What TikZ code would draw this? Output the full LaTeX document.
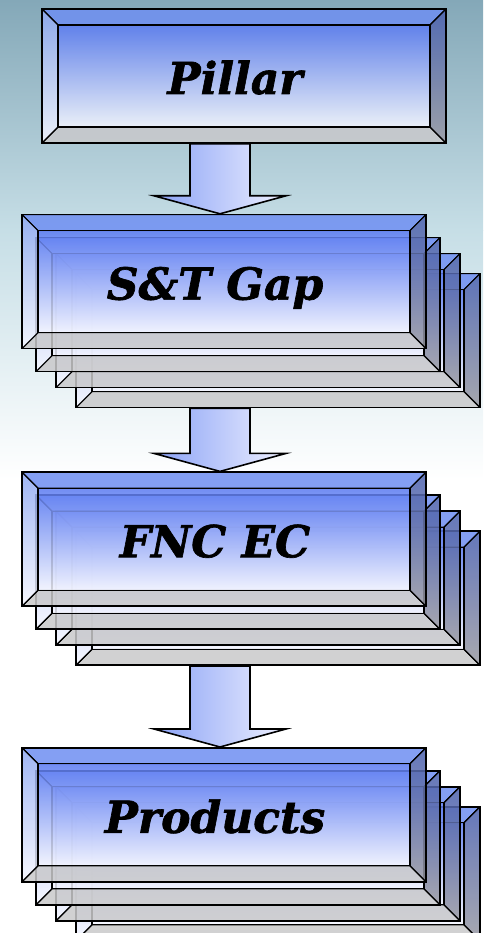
\documentclass[tikz,border=0pt]{standalone}
\usepackage{fontspec}
\usepackage{tikz}
\usetikzlibrary{shapes,arrows,positioning,calc}
\newfontfamily\boxfont{DejaVu Serif}[BoldItalicFeatures={FakeBold=1.5}]

\definecolor{topblue}{HTML}{6F8FF2}
\definecolor{faceblue}{HTML}{5A7AF2}
\definecolor{facewhite}{HTML}{F6F7FF}
\definecolor{leftblue}{HTML}{8EA8F2}
\definecolor{rightblue}{HTML}{4A60B0}
\definecolor{rightgrey}{HTML}{9A9AA2}
\definecolor{bottomgrey}{HTML}{C9C9CB}
\definecolor{arrowblue}{HTML}{8AA2F6}
\definecolor{arrowwhite}{HTML}{EEF0FF}
\definecolor{skytop}{HTML}{84A8B8}
\definecolor{skymid}{HTML}{C6DEE6}

\pgfdeclarelayer{sky}
\pgfdeclarelayer{stack}
\pgfsetlayers{sky,stack,main}

% arrow from the bottom of one box down to the top of the next
\newcommand{\flowarrow}[2]{%
  \draw[block arrow] ($(#1 -| #2)+(-34,0)$) -- ($(#2)+(-34,-18)$) -- ($(#2)+(-70,-18)$)
    -- ($(#2)+(-4,0)$) -- ($(#2)+(62,-18)$) -- ($(#2)+(26,-18)$) -- ($(#1 -| #2)+(26,0)$) -- cycle;}

\begin{document}
\begin{tikzpicture}[
    x=1pt, y=-1pt,
    node distance=70pt,
    thick,
    bevel box/.style={rectangle, draw=black, line width=1.6pt, minimum width=404pt,
      minimum height=134pt, inner sep=0pt, text height=36pt, text depth=0pt,
      font=\boxfont\bfseries\itshape\fontsize{44}{48}\selectfont,
      execute at end node=\hspace*{18pt},
      fill opacity=0.85, text opacity=1,
      path picture={
        \path (path picture bounding box.north west) coordinate (bnw)
              (path picture bounding box.north east) coordinate (bne)
              (path picture bounding box.south west) coordinate (bsw)
              (path picture bounding box.south east) coordinate (bse);
        \filldraw[face edge, fill=topblue] (bnw) -- (bne) -- ($(bne)+(-16,16)$) -- ($(bnw)+(16,16)$) -- cycle;
        \filldraw[face edge, fill=bottomgrey] (bsw) -- (bse) -- ($(bse)+(-16,-16)$) -- ($(bsw)+(16,-16)$) -- cycle;
        \draw[face edge, top color=leftblue, bottom color=facewhite] (bnw) -- ($(bnw)+(16,16)$) -- ($(bsw)+(16,-16)$) -- (bsw) -- cycle;
        \draw[face edge, top color=rightblue, bottom color=rightgrey] (bne) -- ($(bne)+(-16,16)$) -- ($(bse)+(-16,-16)$) -- (bse) -- cycle;
        \draw[face edge, top color=faceblue, bottom color=facewhite] ($(bnw)+(16,16)$) rectangle ($(bse)+(-16,-16)$);
      }},
    face edge/.style={draw=black, line width=1.2pt, line join=miter},
    block arrow/.style={draw=black, line width=1.6pt, line join=miter, left color=arrowblue, right color=arrowwhite}
]
\useasboundingbox (0,0) rectangle (483,933);

% Background
\begin{pgfonlayer}{sky}
\fill[white] (0,0) rectangle (483,933);
\fill[top color=skytop, bottom color=skymid] (0,0) rectangle (483,230);
\fill[top color=skymid, bottom color=white] (0,230) rectangle (483,480);
\end{pgfonlayer}

% Boxes
\node[bevel box] (pillar) at (244,76) {Pillar};
\node[bevel box, below=70pt of pillar, xshift=-20pt] (gap) {S\&T Gap};
\node[bevel box, below=122pt of gap] (fnc) {FNC EC};
\node[bevel box, below=140pt of fnc] (products) {Products};

% Stacked copies behind
\begin{pgfonlayer}{stack}
\foreach \stackname in {gap,fnc,products} {
  \node[bevel box] (\stackname4) at ($(\stackname)+(54,59)$) {};
  \node[bevel box] (\stackname3) at ($(\stackname)+(34,39)$) {};
  \node[bevel box] (\stackname2) at ($(\stackname)+(14,23)$) {};
}
\end{pgfonlayer}

% Arrows
\flowarrow{pillar.south}{gap.north}
\flowarrow{gap4.south}{fnc.north}
\flowarrow{fnc4.south}{products.north}

\end{tikzpicture}
\end{document}
